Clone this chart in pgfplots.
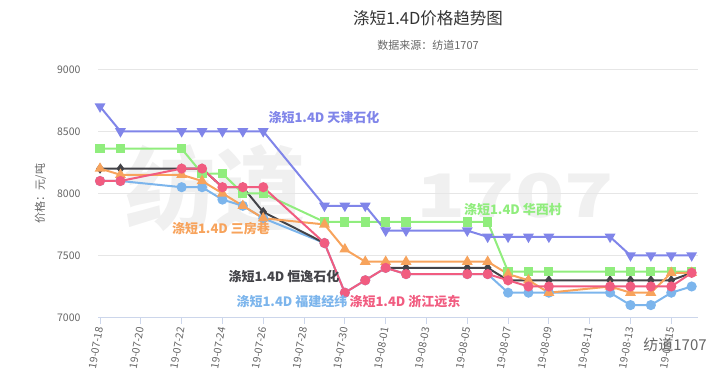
\documentclass[border=0pt]{standalone}
\usepackage{pgfplots}
\pgfplotsset{compat=1.18}
\usepackage{fontspec}
\setmainfont{Noto Sans CJK SC}
\definecolor{hcblue}{HTML}{7CB5EC}
\definecolor{hcblack}{HTML}{434348}
\definecolor{hcgreen}{HTML}{90ED7D}
\definecolor{hcorange}{HTML}{F7A35C}
\definecolor{hcpurple}{HTML}{8085E9}
\definecolor{hcpink}{HTML}{F15C80}
\definecolor{gridc}{HTML}{E6E6E6}
\definecolor{axisc}{HTML}{CCD6EB}
\definecolor{labc}{HTML}{666666}
\definecolor{titc}{HTML}{333333}
\definecolor{wmc}{HTML}{F0F0F0}
\begin{document}
\begin{tikzpicture}[x=1pt,y=1pt]
\path[use as bounding box] (0,0) rectangle (725,376);
% watermark
\node[text=wmc, font=\fontsize{90}{90}\selectfont\bfseries] at (215,188) {纺道};
\node[text=wmc, xscale=1.35, font=\fontsize{60}{60}\selectfont\bfseries] at (515,180) {1707};
\begin{axis}[
  at={(98pt,58.5pt)}, anchor=south west,
  scale only axis, width=600pt, height=248.2pt,
  xmin=-0.1, xmax=29.31, ymin=7000, ymax=9000,
  axis x line*=bottom, axis y line*=left,
  x axis line style={draw=axisc, line width=1pt},
  y axis line style={draw=none},
  xtick={0,2,...,28},
  xticklabels={19-07-18,19-07-20,19-07-22,19-07-24,19-07-26,19-07-28,19-07-30,19-08-01,19-08-03,19-08-05,19-08-07,19-08-09,19-08-11,19-08-13,19-08-15},
  ytick={7000,7500,8000,8500,9000},
  ymajorgrids, grid style={gridc, line width=1pt},
  tick align=outside,
  x tick style={draw=axisc, line width=1pt}, major tick length=6pt,
  y tick style={draw=none},
  /pgf/number format/1000 sep={},
  /pgf/number format/assume math mode=true,
  xticklabel style={rotate=80, anchor=east, font=\fontsize{10.5}{12}\selectfont, text=labc},
  yticklabel style={font=\fontsize{10.5}{12}\selectfont, text=labc, xshift=-8pt},
  ylabel={价格：元/吨},
  ylabel style={at={(axis description cs:-0.096,0.5)}, anchor=center, font=\fontsize{11}{12}\selectfont, text=labc},
  unbounded coords=jump,
  clip=false,
]
% 福建经纬
\addplot[hcblue, line width=2pt, mark=*, mark size=4pt, mark options={draw=none, fill=hcblue}] table {
x y
0 8100
1 8100
4 8050
5 8050
6 7950
7 7900
8 7800
11 7600
12 7200
13 7300
14 7400
15 7350
18 7350
19 7350
20 7200
21 7200
22 7200
25 7200
26 7100
27 7100
28 7200
29 7250
};
% 恒逸石化
\addplot[hcblack, line width=2pt, mark=diamond*, mark size=3.5pt, mark options={draw=none, fill=hcblack}] table {
x y
0 8200
1 8200
4 8200
5 8200
6 8050
7 8050
8 7850
11 7600
12 nan
13 nan
14 7400
15 7400
18 7400
19 7400
20 7300
21 7300
22 7300
25 7300
26 7300
27 7300
28 7300
29 7360
};
% 华西村
\addplot[hcgreen, line width=2pt, mark=square*, mark size=3.6pt, mark options={draw=none, fill=hcgreen}] table {
x y
0 8360
1 8360
4 8360
5 8160
6 8160
7 8000
8 8000
11 7770
12 7770
13 7770
14 7770
15 7770
18 7770
19 7770
20 7370
21 7370
22 7370
25 7370
26 7370
27 7370
28 7370
29 7370
};
% 三房巷
\addplot[hcorange, line width=2pt, mark=triangle*, mark size=4.3pt, mark options={draw=none, fill=hcorange}] table {
x y
0 8200
1 8150
4 8150
5 8100
6 8000
7 7900
8 7800
11 7750
12 7550
13 7450
14 7450
15 7450
18 7450
19 7450
20 7350
21 7300
22 7200
25 7250
26 7200
27 7200
28 7360
29 7360
};
% 天津石化
\addplot[hcpurple, line width=2pt, mark=triangle*, mark size=4.3pt, mark options={draw=none, fill=hcpurple, rotate=180}] table {
x y
0 8700
1 8500
4 8500
5 8500
6 8500
7 8500
8 8500
11 7900
12 7900
13 7900
14 7700
15 7700
18 7700
19 7650
20 7650
21 7650
22 7650
25 7650
26 7500
27 7500
28 7500
29 7500
};
% 浙江远东
\addplot[hcpink, line width=2pt, mark=*, mark size=4pt, mark options={draw=none, fill=hcpink}] table {
x y
0 8100
1 8100
4 8200
5 8200
6 8050
7 8050
8 8050
11 7600
12 7200
13 7300
14 7400
15 7350
18 7350
19 7350
20 7300
21 7250
22 7250
25 7250
26 7250
27 7250
28 7250
29 7360
};
\end{axis}
% titles
\node[text=titc, font=\fontsize{16.5}{18}\selectfont] at (428,358) {涤短1.4D价格趋势图};
\node[text=labc, font=\fontsize{11}{12}\selectfont] at (428,331) {数据来源：纺道1707};
% series labels
\node[text=hcpurple, font=\fontsize{13}{14}\selectfont\bfseries] at (324,258) {涤短1.4D 天津石化};
\node[text=hcgreen, font=\fontsize{13}{14}\selectfont\bfseries] at (513,166) {涤短1.4D 华西村};
\node[text=hcorange, font=\fontsize{13}{14}\selectfont\bfseries] at (221,147) {涤短1.4D 三房巷};
\node[text=hcblack, font=\fontsize{13}{14}\selectfont\bfseries] at (284,99) {涤短1.4D 恒逸石化};
\node[text=hcblue, font=\fontsize{13}{14}\selectfont\bfseries] at (292,74) {涤短1.4D 福建经纬};
\node[text=hcpink, font=\fontsize{13}{14}\selectfont\bfseries] at (405,74) {涤短1.4D 浙江远东};
% corner watermark
\node[text=labc, font=\fontsize{15}{16}\selectfont] at (675,31) {纺道1707};
\end{tikzpicture}
\end{document}
